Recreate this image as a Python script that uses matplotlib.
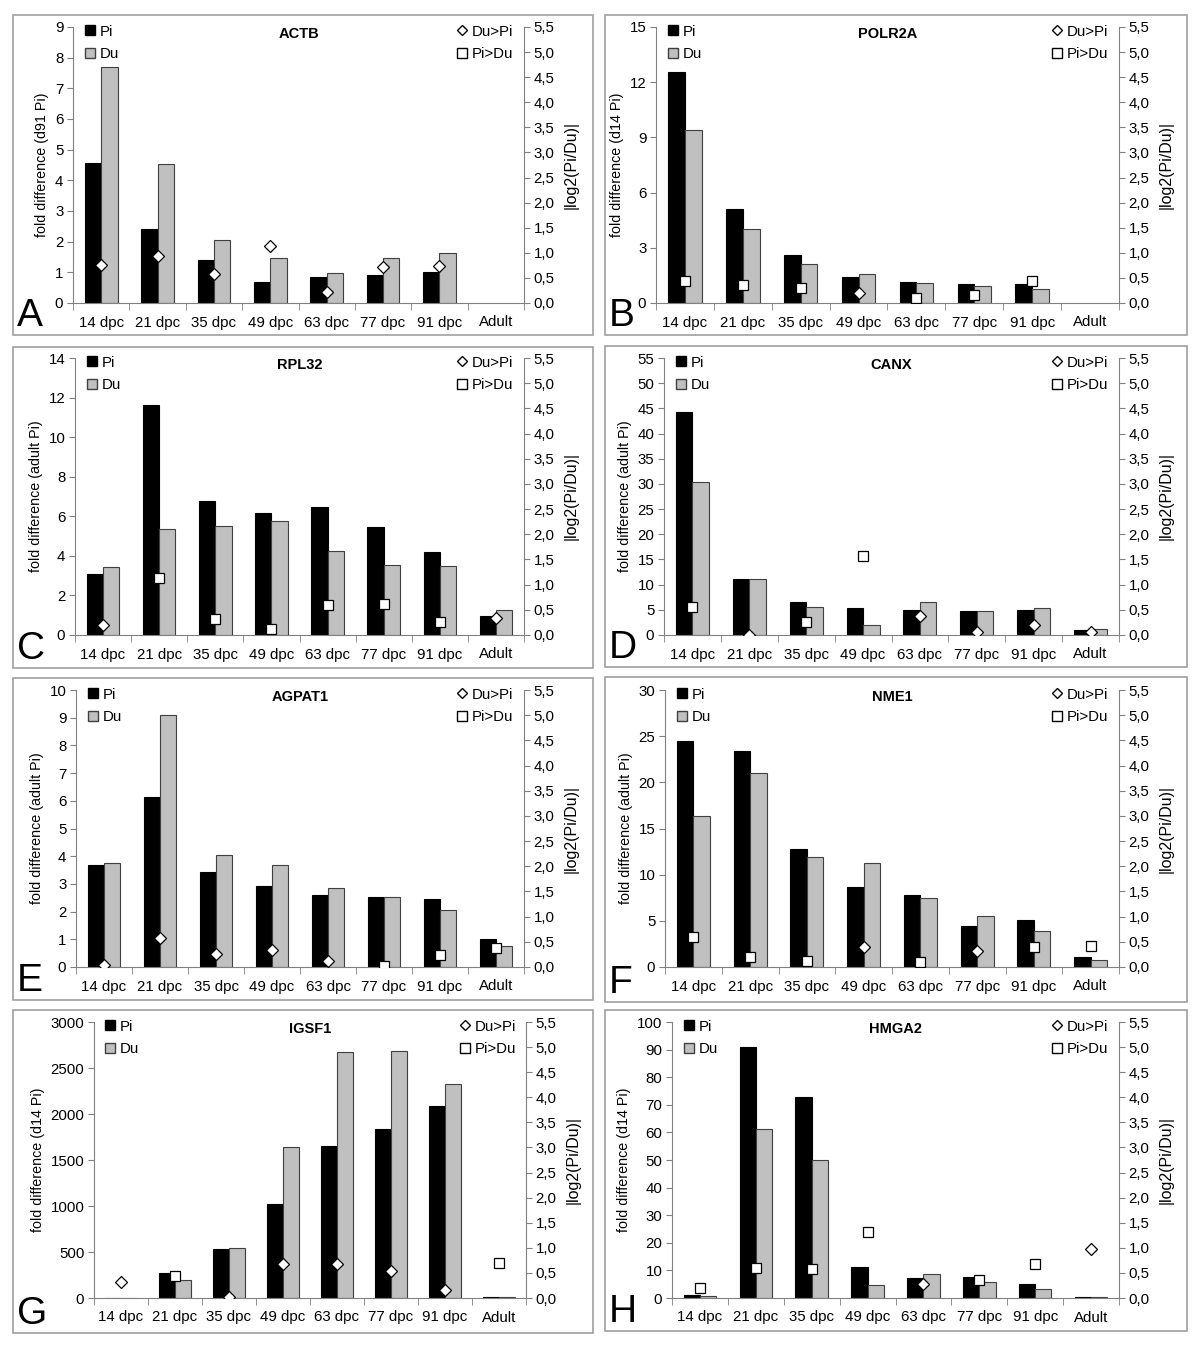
import numpy as np
import matplotlib
matplotlib.use('Agg')
import matplotlib.pyplot as plt
from matplotlib.lines import Line2D
from matplotlib.patches import Rectangle
from matplotlib.ticker import FuncFormatter

plt.rcParams['font.family'] = ['Liberation Sans', 'DejaVu Sans']

stages = ['14 dpc', '21 dpc', '35 dpc', '49 dpc', '63 dpc', '77 dpc', '91 dpc', 'Adult']

# fold differences (left axis) and |log2(Pi/Du)| (right axis)
# dir: 'D' = Du>Pi (diamond), 's' = Pi>Du (square)
actb_pi = [4.58, 2.42, 1.40, 0.68, 0.86, 0.92, 1.00, np.nan]
actb_du = [7.70, 4.52, 2.05, 1.46, 0.98, 1.46, 1.63, np.nan]
actb_log = [0.76, 0.93, 0.58, 1.13, 0.21, 0.71, 0.73, np.nan]
actb_dir = ['D', 'D', 'D', 'D', 'D', 'D', 'D', '']

polr2a_pi = [12.57, 5.10, 2.59, 1.39, 1.14, 1.03, 1.03, np.nan]
polr2a_du = [9.40, 4.00, 2.13, 1.59, 1.08, 0.94, 0.78, np.nan]
polr2a_log = [0.44, 0.36, 0.30, 0.19, 0.09, 0.15, 0.44, np.nan]
polr2a_dir = ['s', 's', 's', 'D', 's', 's', 's', '']

rpl32_pi = [3.06, 11.60, 6.79, 6.18, 6.47, 5.44, 4.17, 0.98]
rpl32_du = [3.46, 5.34, 5.52, 5.76, 4.27, 3.56, 3.51, 1.28]
rpl32_log = [0.19, 1.13, 0.31, 0.11, 0.60, 0.62, 0.26, 0.34]
rpl32_dir = ['D', 's', 's', 's', 's', 's', 's', 'D']

canx_pi = [44.3, 11.1, 6.5, 5.4, 5.0, 4.7, 4.9, 1.0]
canx_du = [30.4, 11.1, 5.6, 1.9, 6.5, 4.8, 5.4, 1.2]
canx_log = [0.55, 0.00, 0.26, 1.57, 0.37, 0.06, 0.19, 0.05]
canx_dir = ['s', 'D', 's', 's', 'D', 'D', 'D', 'D']

agpat1_pi = [3.69, 6.14, 3.42, 2.92, 2.61, 2.54, 2.45, 1.01]
agpat1_du = [3.75, 9.10, 4.06, 3.69, 2.84, 2.51, 2.07, 0.77]
agpat1_log = [0.03, 0.58, 0.25, 0.34, 0.12, 0.01, 0.23, 0.38]
agpat1_dir = ['D', 'D', 'D', 'D', 'D', 's', 's', 's']

nme1_pi = [24.5, 23.4, 12.8, 8.67, 7.84, 4.45, 5.13, 1.05]
nme1_du = [16.4, 21.0, 11.9, 11.3, 7.52, 5.53, 3.90, 0.76]
nme1_log = [0.60, 0.19, 0.11, 0.39, 0.09, 0.31, 0.40, 0.42]
nme1_dir = ['s', 's', 's', 'D', 's', 'D', 's', 's']

igsf1_pi = [1, 272, 533, 1025, 1656, 1837, 2087, 10]
igsf1_du = [1.24, 199, 540, 1638, 2670, 2681, 2322, 6.2]
igsf1_log = [0.31, 0.43, 0.01, 0.68, 0.68, 0.54, 0.16, 0.69]
igsf1_dir = ['D', 's', 'D', 'D', 'D', 'D', 'D', 's']

hmga2_pi = [1.0, 90.8, 73.0, 11.4, 7.1, 7.5, 5.1, 0.25]
hmga2_du = [0.88, 61.2, 49.9, 4.8, 8.8, 5.8, 3.4, 0.5]
hmga2_log = [0.19, 0.59, 0.57, 1.32, 0.28, 0.35, 0.68, 0.98]
hmga2_dir = ['s', 's', 's', 's', 'D', 's', 's', 'D']

W, H = 1200, 1347

# letter, gene, ylabel, data, ymax, step, panel box (px), axes box (px)
panels = [
    ('A', 'ACTB', 'fold difference (d91 Pi)', actb_pi, actb_du, actb_log, actb_dir, 9, 1,
     (13, 15, 593, 335), (73, 27, 524, 303)),
    ('B', 'POLR2A', 'fold difference (d14 Pi)', polr2a_pi, polr2a_du, polr2a_log, polr2a_dir, 15, 3,
     (605, 15, 1187, 335), (656, 27, 1119, 303)),
    ('C', 'RPL32', 'fold difference (adult Pi)', rpl32_pi, rpl32_du, rpl32_log, rpl32_dir, 14, 2,
     (13, 347, 593, 668), (75, 358, 524, 635)),
    ('D', 'CANX', 'fold difference (adult Pi)', canx_pi, canx_du, canx_log, canx_dir, 55, 5,
     (605, 346, 1187, 667), (664, 358, 1119, 635)),
    ('E', 'AGPAT1', 'fold difference (adult Pi)', agpat1_pi, agpat1_du, agpat1_log, agpat1_dir, 10, 1,
     (13, 678, 593, 1000), (76, 690, 524, 967)),
    ('F', 'NME1', 'fold difference (adult Pi)', nme1_pi, nme1_du, nme1_log, nme1_dir, 30, 5,
     (605, 677, 1187, 1002), (665, 690, 1119, 967)),
    ('G', 'IGSF1', 'fold difference (d14 Pi)', igsf1_pi, igsf1_du, igsf1_log, igsf1_dir, 3000, 500,
     (13, 1010, 593, 1333), (94, 1022, 526, 1298)),
    ('H', 'HMGA2', 'fold difference (d14 Pi)', hmga2_pi, hmga2_du, hmga2_log, hmga2_dir, 100, 10,
     (605, 1010, 1187, 1331), (672, 1022, 1119, 1298)),
]

fig = plt.figure(figsize=(12, 13.47), dpi=100)
spine_col = '#808080'
x = np.arange(len(stages))
w = 0.29

for letter, gene, ylab, pi, du, lg, dr, ymax, step, box, axb in panels:
    bx0, by0, bx1, by1 = box
    fig.add_artist(Rectangle((bx0 / W, 1 - by1 / H), (bx1 - bx0) / W, (by1 - by0) / H,
                             transform=fig.transFigure, fill=False, ec='#a0a0a0', lw=1.2))
    fig.text((bx0 + 4) / W, 1 - (by1 - 1) / H, letter, fontsize=28, va='bottom', ha='left')

    ax0, ay0, ax1, ay1 = axb
    ax = fig.add_axes([ax0 / W, 1 - ay1 / H, (ax1 - ax0) / W, (ay1 - ay0) / H])
    ax.bar(x - w / 2, pi, w, color='black', edgecolor='black', lw=0.8)
    ax.bar(x + w / 2, du, w, color='#c0c0c0', edgecolor='#404040', lw=0.8)
    ax.set_xlim(-0.5, 7.5)
    ax.set_ylim(0, ymax)
    ax.set_yticks(np.arange(0, ymax + step / 2, step))
    ax.set_xticks(x)
    ax.set_xticklabels(stages)
    ax.set_xticks(np.arange(-0.5, 8, 1), minor=True)
    ax.tick_params(axis='x', which='major', length=0, pad=9, labelsize=10.8)
    ax.tick_params(axis='x', which='minor', length=5, color=spine_col, direction='out')
    ax.tick_params(axis='y', length=4, color=spine_col, labelsize=10.8, pad=3)
    for s in ['top', 'right']:
        ax.spines[s].set_visible(False)
    for s in ['left', 'bottom']:
        ax.spines[s].set_color(spine_col)
    ax.set_ylabel(ylab, fontsize=10.3, labelpad=4)

    ax2 = ax.twinx()
    ax2.set_ylim(0, 5.5)
    ax2.set_yticks(np.arange(0, 5.51, 0.5))
    ax2.yaxis.set_major_formatter(FuncFormatter(lambda v, p: f'{v:.1f}'.replace('.', ',')))
    ax2.tick_params(axis='y', length=4, color=spine_col, labelsize=10.8, pad=3)
    for s in ['top', 'left', 'bottom']:
        ax2.spines[s].set_visible(False)
    ax2.spines['right'].set_color(spine_col)
    ax2.set_ylabel('|log2(Pi/Du)|', fontsize=11.5, labelpad=6)
    for i in range(len(stages)):
        if dr[i] == 'D':
            ax2.plot(x[i], lg[i], marker='D', ms=6, mfc='white', mec='black', mew=0.9, ls='none')
        elif dr[i] == 's':
            ax2.plot(x[i], lg[i], marker='s', ms=7, mfc='white', mec='black', mew=0.9, ls='none')

    ax2.text(0.5, 0.975, gene, transform=ax2.transAxes, ha='center', va='center',
             fontsize=10.5, fontweight='bold')

    h1 = [Line2D([], [], marker='s', ms=6.5, mfc='black', mec='black', ls='none'),
          Line2D([], [], marker='s', ms=6.5, mfc='#c0c0c0', mec='#404040', ls='none')]
    leg1 = ax2.legend(h1, ['Pi', 'Du'], loc='upper left', bbox_to_anchor=(0.012, 1.03),
                      frameon=False, fontsize=10.8, handlelength=0.7, handletextpad=0.3,
                      labelspacing=0.55, borderpad=0.2, borderaxespad=0.2)
    ax2.add_artist(leg1)
    h2 = [Line2D([], [], marker='D', ms=5, mfc='white', mec='black', ls='none'),
          Line2D([], [], marker='s', ms=6.5, mfc='white', mec='black', ls='none')]
    ax2.legend(h2, ['Du>Pi', 'Pi>Du'], loc='upper right', bbox_to_anchor=(0.99, 1.03),
               frameon=False, fontsize=10.8, handlelength=0.7, handletextpad=0.3,
               labelspacing=0.55, borderpad=0.2, borderaxespad=0.2)

fig.savefig('out.png', dpi=100)
